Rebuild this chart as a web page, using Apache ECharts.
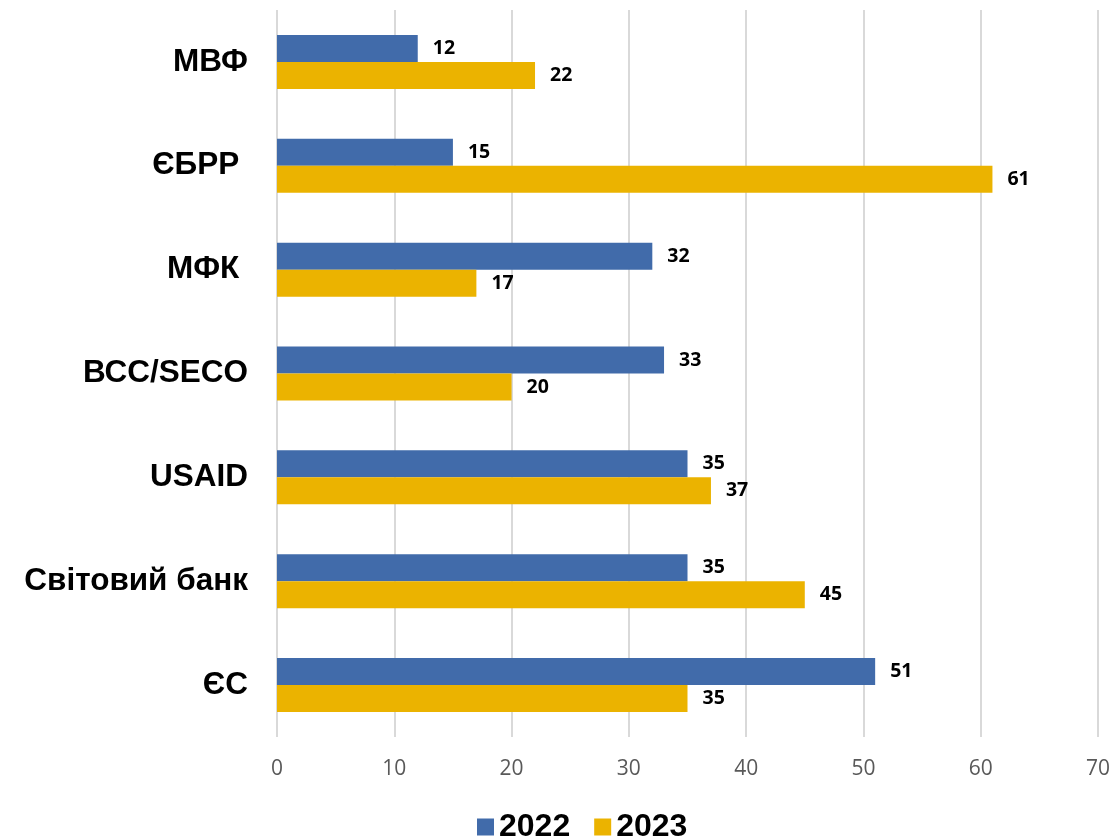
<!DOCTYPE html>
<html><head><meta charset="utf-8">
<script src="https://cdn.jsdelivr.net/npm/echarts@6/dist/echarts.min.js"></script>
<style>html,body{margin:0;padding:0;background:#fff}#c{width:1114px;height:837px}</style>
</head><body><div id="c"></div>
<script>
const categories = ["МВФ", "ЄБРР ", "МФК ", "ВСС/SECO", "USAID", "Світовий банк", "ЄС"];
const values2022 = [12, 15, 32, 33, 35, 35, 51];
const values2023 = [22, 61, 17, 20, 37, 45, 35];
const seriesNames = ["2022", "2023"];

const chart = echarts.init(document.getElementById('c'));
const lbl = {show: true, position: 'right', distance: 15, fontFamily: 'Open Sans', fontWeight: 'bold', fontSize: 19.5, color: '#000'};
chart.setOption({
  animation: false,
  grid: {left: 277, right: 16, top: 10, bottom: 100},
  legend: {
    top: 806, left: 472, itemWidth: 17, itemHeight: 17, itemGap: 24,
    icon: 'rect',
    textStyle: {fontFamily: 'Liberation Sans', fontWeight: 'bold', fontSize: 32, color: '#000'},
    data: seriesNames
  },
  xAxis: {
    type: 'value', min: 0, max: 70, interval: 10,
    axisLine: {show: false}, axisTick: {show: false},
    axisLabel: {fontFamily: 'Open Sans', fontSize: 21, color: '#595959', margin: 22},
    splitLine: {lineStyle: {color: '#d9d9d9', width: 2}}
  },
  yAxis: {
    type: 'category', data: categories, inverse: true,
    axisLine: {show: false}, axisTick: {show: false},
    axisLabel: {fontFamily: 'Liberation Sans', fontWeight: 'bold', fontSize: 31.5, color: '#000', margin: 29, padding: [6, 0, 0, 0]}
  },
  series: [
    {name: seriesNames[0], type: 'bar', data: values2022, itemStyle: {color: '#416BAA'}, barGap: '0%', barCategoryGap: '48%', label: lbl},
    {name: seriesNames[1], type: 'bar', data: values2023, itemStyle: {color: '#EBB300'}, barGap: '0%', barCategoryGap: '48%', label: lbl}
  ]
});
</script></body></html>
